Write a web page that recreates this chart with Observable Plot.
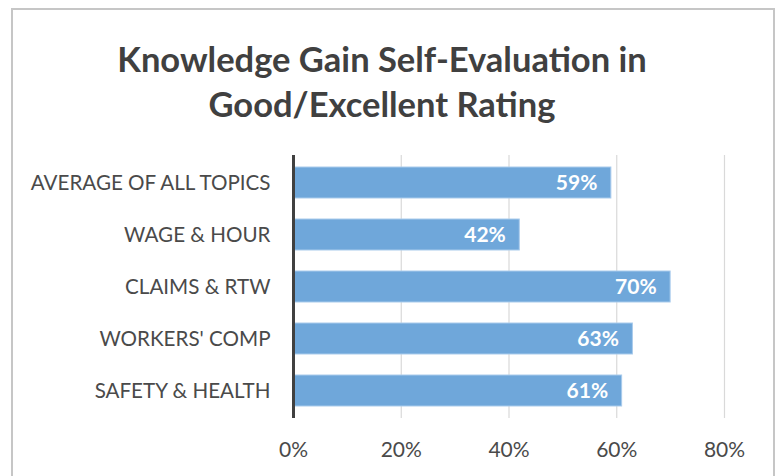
<!DOCTYPE html>
<html>
<head>
<meta charset="utf-8">
<script src="https://cdn.jsdelivr.net/npm/d3@7"></script>
<script src="https://cdn.jsdelivr.net/npm/@observablehq/plot@0.6"></script>
<style>
  html, body { margin: 0; padding: 0; background: #fff; }
  #wrap { position: relative; width: 779px; height: 476px; overflow: hidden; }
  #frame { position: absolute; left: 11px; top: 8px; width: 764px; height: 520px; border: 2px solid #c6c6c6; box-sizing: border-box; }
  #title { position: absolute; left: 0px; width: 764px; top: 36px; text-align: center;
    font-family: Lato, "Open Sans", sans-serif; font-weight: bold; font-size: 34.5px; line-height: 45px; color: #404040; }
  #chart { position: absolute; left: 0; top: 0; }
</style>
</head>
<body>
<div id="wrap">
  <div id="frame"></div>
  <div id="title">Knowledge Gain Self-Evaluation in<br>Good/Excellent Rating</div>
  <div id="chart"></div>
</div>
<script>
const categories = ["AVERAGE OF ALL TOPICS", "WAGE & HOUR", "CLAIMS & RTW", "WORKERS' COMP", "SAFETY & HEALTH"];
const values = [0.59, 0.42, 0.70, 0.63, 0.61];
const xTicks = [0, 0.2, 0.4, 0.6, 0.8];
const data = categories.map((c, i) => ({category: c, value: values[i]}));

const chart = Plot.plot({
  width: 779,
  height: 476,
  marginTop: 155,
  marginBottom: 58,
  marginLeft: 293,
  marginRight: 55,
  style: {fontFamily: "Lato, 'Open Sans', sans-serif", background: "transparent"},
  x: {domain: [0, 0.8], axis: null, label: null},
  y: {domain: categories, paddingInner: 0.41, paddingOuter: 0.205, axis: null, label: null},
  marks: [
    Plot.ruleX(xTicks.slice(1), {stroke: "#d9d9d9", strokeWidth: 1.2}),
    Plot.barX(data, {x: "value", y: "category", fill: "#6fa7da", stroke: "#a9cbec", strokeWidth: 1}),
    Plot.ruleX([0], {stroke: "#404040", strokeWidth: 3}),
    Plot.text(data, {x: "value", y: "category", text: d => Math.round(d.value * 100) + "%", textAnchor: "end", dx: -14, fill: "white", fontWeight: "bold", fontSize: 21}),
    Plot.axisX(xTicks, {tickSize: 0, tickPadding: 24, label: null, tickFormat: d => Math.round(d * 100) + "%", fontSize: 21, fill: "#4a4a4a", anchor: "bottom"}),
    Plot.axisY({tickSize: 0, tickPadding: 23, label: null, fontSize: 20.6, fill: "#4a4a4a", anchor: "left"})
  ]
});
document.getElementById("chart").appendChild(chart);
</script>
</body>
</html>
